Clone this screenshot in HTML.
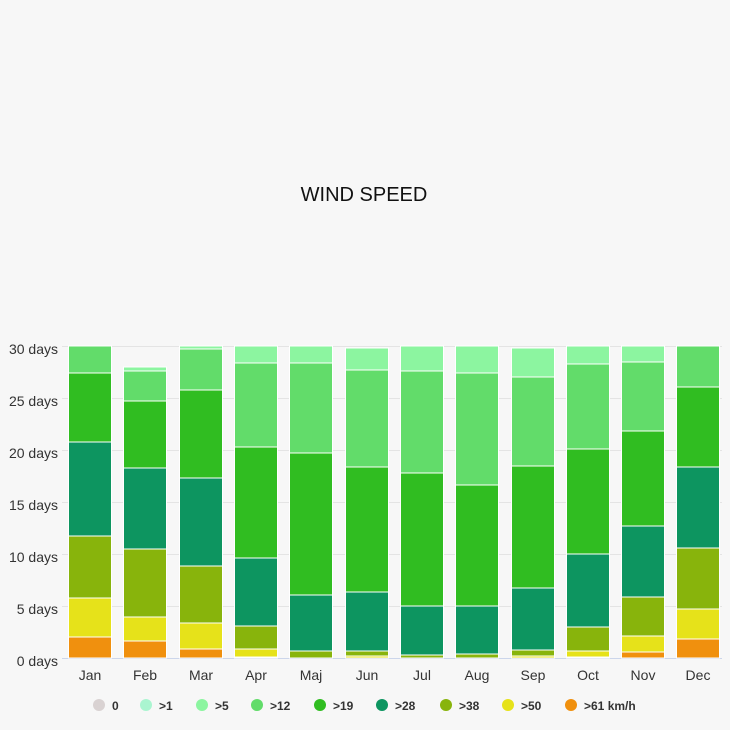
<!DOCTYPE html>
<html><head><meta charset="utf-8"><style>
html,body{margin:0;padding:0;background:#f7f7f7;}
svg{display:block;font-family:"Liberation Sans",sans-serif;}
</style></head><body>
<svg width="730" height="730" xmlns="http://www.w3.org/2000/svg">
<rect width="730" height="730" fill="#f7f7f7"/>
<text x="364" y="201" font-size="20" text-anchor="middle" fill="#111">WIND SPEED</text>
<g stroke="#e4e4e4" stroke-width="1">
<line x1="62" x2="722" y1="346.5" y2="346.5"/>
<line x1="62" x2="722" y1="398.5" y2="398.5"/>
<line x1="62" x2="722" y1="450.5" y2="450.5"/>
<line x1="62" x2="722" y1="502.5" y2="502.5"/>
<line x1="62" x2="722" y1="554.5" y2="554.5"/>
<line x1="62" x2="722" y1="606.5" y2="606.5"/>
</g>
<line x1="62" x2="722" y1="658.5" y2="658.5" stroke="#ccd6eb"/>
<g font-size="14" fill="#333" text-anchor="end">
<text x="58" y="354">30 days</text>
<text x="58" y="406">25 days</text>
<text x="58" y="458">20 days</text>
<text x="58" y="510">15 days</text>
<text x="58" y="562">10 days</text>
<text x="58" y="614">5 days</text>
<text x="58" y="666">0 days</text>
</g>
<g id="bars" stroke="#fff" stroke-width="1"></g>
<g font-size="14" fill="#333" text-anchor="middle" id="months"></g>
<g font-size="12" font-weight="bold" fill="#333">
<circle cx="99" cy="705" r="6" fill="#d9d2d2"/><text x="112" y="710">0</text>
<circle cx="146" cy="705" r="6" fill="#aaf5d0"/><text x="159" y="710">&gt;1</text>
<circle cx="202" cy="705" r="6" fill="#8cf5a0"/><text x="215" y="710">&gt;5</text>
<circle cx="257" cy="705" r="6" fill="#62dc6a"/><text x="270" y="710">&gt;12</text>
<circle cx="320" cy="705" r="6" fill="#30bd21"/><text x="333" y="710">&gt;19</text>
<circle cx="382" cy="705" r="6" fill="#0d9560"/><text x="395" y="710">&gt;28</text>
<circle cx="446" cy="705" r="6" fill="#88b40c"/><text x="459" y="710">&gt;38</text>
<circle cx="508" cy="705" r="6" fill="#e6e21a"/><text x="521" y="710">&gt;50</text>
<circle cx="571" cy="705" r="6" fill="#f0900e"/><text x="584" y="710">&gt;61 km/h</text>
</g>
<script>
var cols=["#aaf5d0","#8cf5a0","#62dc6a","#30bd21","#0d9560","#88b40c","#e6e21a","#f0900e"];
// boundaries: top of each series from >1 downward; last is bottom 658
var d=[
["Jan",68,[346,346,346,373,442,536,598,637]],
["Feb",123,[367,367,371,401,468,549,617,641]],
["Mar",179,[346,346,349,390,478,566,623,649]],
["Apr",234,[346,346,363,447,558,626,649,657]],
["Maj",289,[346,346,363,453,595,651,658,658]],
["Jun",345,[348,348,370,467,592,651,656,658]],
["Jul",400,[346,346,371,473,606,655,658,658]],
["Aug",455,[346,346,373,485,606,654,658,658]],
["Sep",511,[348,348,377,466,588,650,656,658]],
["Oct",566,[346,346,364,449,554,627,651,657]],
["Nov",621,[346,346,362,431,526,597,636,652]],
["Dec",676,[346,346,346,387,467,548,609,639]]
];
var ns="http://www.w3.org/2000/svg",g=document.getElementById("bars"),m=document.getElementById("months");
d.forEach(function(b){
 var t=b[2].concat([658]);
 for(var i=0;i<8;i++){var h=t[i+1]-t[i];if(h<=0)continue;
  var r=document.createElementNS(ns,"rect");r.setAttribute("x",b[1]+0.5);r.setAttribute("y",t[i]);
  r.setAttribute("width",43);r.setAttribute("height",h);r.setAttribute("fill",cols[i]);g.appendChild(r);}
 var tx=document.createElementNS(ns,"text");tx.setAttribute("x",b[1]+22);tx.setAttribute("y",680);tx.textContent=b[0];m.appendChild(tx);
});
</script>
</svg>
</body></html>
